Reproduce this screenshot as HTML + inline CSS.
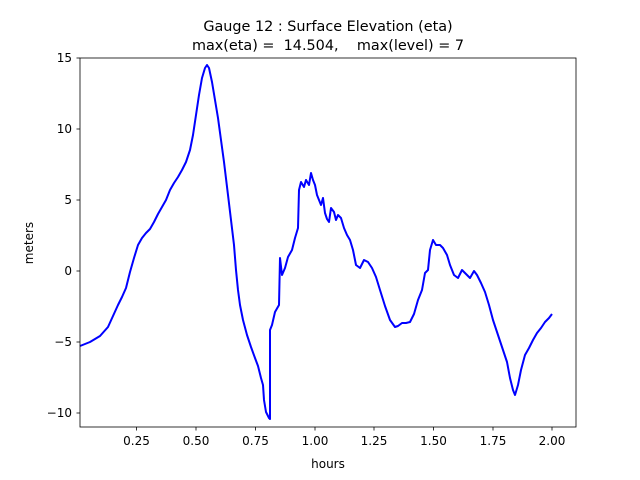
<!DOCTYPE html>
<html><head><meta charset="utf-8"><style>body{margin:0;background:#fff}svg{display:block}text{font-family:"DejaVu Sans","Liberation Sans",sans-serif;fill:#000}</style></head>
<body>
<svg width="640" height="480" viewBox="0 0 640 480" xmlns="http://www.w3.org/2000/svg">
<rect width="640" height="480" fill="#fff"/>
<text x="328" y="31" font-size="14.4" text-anchor="middle">Gauge 12 : Surface Elevation (eta)</text>
<text x="328" y="50" font-size="14.4" text-anchor="middle" xml:space="preserve">max(eta) =  14.504,    max(level) = 7</text>
<polyline fill="none" stroke="#0000ff" stroke-width="2" stroke-linejoin="round" points="80,346 90,342 100,336 108,327 113,316 118,305 122,297 126,288 130,272 134,258 138,245 142,238 146,233 150,229 154,222 158,214 162,207 166,200 170,190 174,183 178,177 182,170 186,162 190,150 193,135 196,115 199,95 202,78 205,68 207,65 209,68 212,82 215,100 218,118 221,140 224,162 228,195 231,220 234,245 236,270 238,290 240,305 243,320 247,335 251,347 255,358 258,366 261,378 263,385 264,400 266,412 269,418 270,419 270,330 272,325 275,312 279,305 280,258 282,275 285,268 288,257 292,250 295,238 298,228 299,190 301,182 304,187 306,180 309,185 311,173 313,180 315,185 317,195 319,200 321,205 323,198 325,213 327,219 329,222 331,208 334,212 336,220 338,215 341,218 344,228 347,235 350,240 353,250 356,265 360,268 364,260 368,262 372,268 376,277 380,290 385,306 390,320 395,327 398,326 402,323 406,323 410,322 414,314 418,300 422,290 425,273 428,270 430,250 433,240 436,245 440,245 443,248 447,255 450,265 454,275 458,278 462,270 466,274 470,278 474,271 477,275 481,283 485,292 489,305 493,320 498,335 503,350 507,362 510,378 513,390 515,395 518,385 521,370 525,355 529,348 533,340 537,333 541,328 545,322 549,318 552,314"/>
<rect x="80" y="58" width="496" height="369" fill="none" stroke="#000" stroke-width="0.8"/>
<g stroke="#000" stroke-width="0.8">
<line x1="136.5" y1="427" x2="136.5" y2="430.5"/><line x1="196" y1="427" x2="196" y2="430.5"/><line x1="255.5" y1="427" x2="255.5" y2="430.5"/><line x1="315" y1="427" x2="315" y2="430.5"/><line x1="374" y1="427" x2="374" y2="430.5"/><line x1="433.5" y1="427" x2="433.5" y2="430.5"/><line x1="493" y1="427" x2="493" y2="430.5"/><line x1="552" y1="427" x2="552" y2="430.5"/>
<line x1="76.5" y1="58" x2="80" y2="58"/><line x1="76.5" y1="129" x2="80" y2="129"/><line x1="76.5" y1="200" x2="80" y2="200"/><line x1="76.5" y1="271" x2="80" y2="271"/><line x1="76.5" y1="342" x2="80" y2="342"/><line x1="76.5" y1="413" x2="80" y2="413"/>
</g>
<g font-size="12" text-anchor="middle">
<text x="136.5" y="445">0.25</text><text x="196" y="445">0.50</text><text x="255.5" y="445">0.75</text><text x="315" y="445">1.00</text><text x="374" y="445">1.25</text><text x="433.5" y="445">1.50</text><text x="493" y="445">1.75</text><text x="552" y="445">2.00</text>
<text x="328" y="468">hours</text>
</g>
<g font-size="12" text-anchor="end">
<text x="72" y="62">15</text><text x="72" y="133">10</text><text x="72" y="204">5</text><text x="72" y="275">0</text><text x="72" y="346">−5</text><text x="72" y="417">−10</text>
</g>
<text x="33" y="243" font-size="12" text-anchor="middle" transform="rotate(-90 33 243)">meters</text>
</svg>
</body></html>
